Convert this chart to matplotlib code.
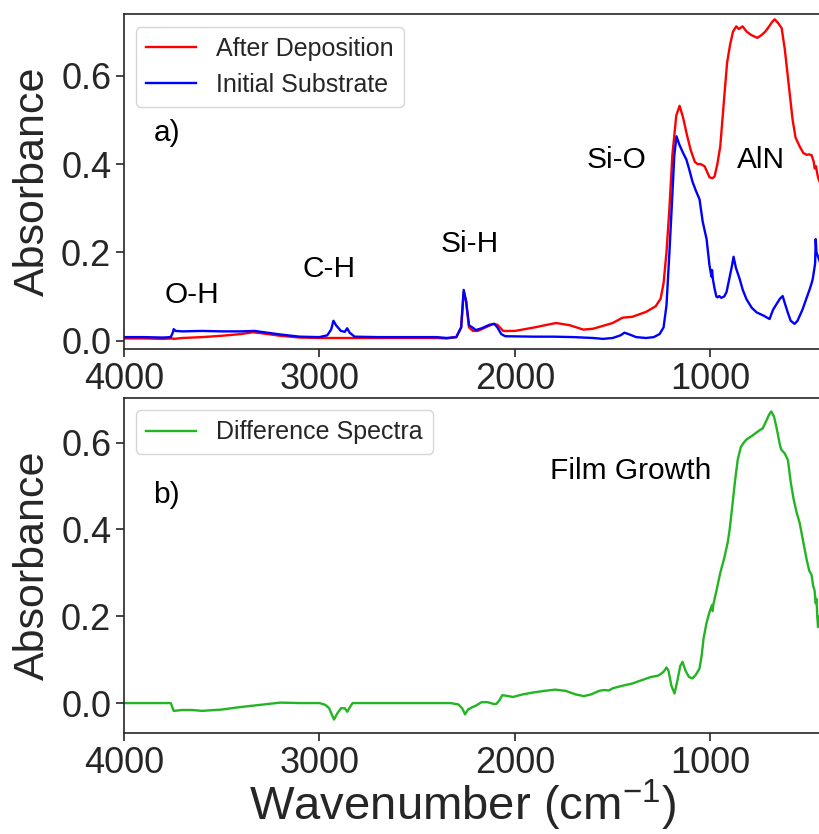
import matplotlib
matplotlib.use("Agg")
import matplotlib.pyplot as plt

# ---------------- data ----------------
red_wn = [4000, 3900, 3800, 3750, 3745, 3700, 3600, 3500, 3400, 3340, 3300, 3200, 3100, 3000,
          2900, 2800, 2500, 2400, 2350, 2300, 2275, 2262, 2250, 2235, 2215, 2190, 2150, 2110,
          2090, 2060, 2000, 1900, 1790, 1720, 1650, 1600, 1500, 1450, 1400, 1330, 1280, 1255,
          1240, 1225, 1210, 1195, 1175, 1158, 1140, 1120, 1100, 1080, 1066, 1050, 1030, 1005,
          990, 979, 965, 950, 930, 915, 900, 885, 868, 855, 836, 815, 790, 760, 740, 720, 700,
          685, 672, 655, 636, 620, 605, 590, 580, 565, 544, 525, 508, 495, 483, 472, 467, 460,
          455, 450, 442]
red_abs = [0.005, 0.005, 0.004, 0.005, 0.004, 0.006, 0.008, 0.011, 0.015, 0.019, 0.017, 0.011,
           0.007, 0.006, 0.006, 0.006, 0.006, 0.006, 0.005, 0.008, 0.030, 0.110, 0.090, 0.030,
           0.022, 0.022, 0.030, 0.038, 0.036, 0.022, 0.022, 0.030, 0.040, 0.035, 0.025, 0.027,
           0.040, 0.052, 0.054, 0.065, 0.078, 0.095, 0.130, 0.200, 0.300, 0.420, 0.510, 0.532,
           0.505, 0.465, 0.430, 0.405, 0.400, 0.400, 0.395, 0.370, 0.368, 0.372, 0.400, 0.440,
           0.550, 0.630, 0.670, 0.700, 0.712, 0.706, 0.712, 0.700, 0.692, 0.686, 0.692, 0.700,
           0.712, 0.722, 0.728, 0.720, 0.708, 0.660, 0.600, 0.540, 0.500, 0.460, 0.440, 0.425,
           0.421, 0.422, 0.420, 0.405, 0.390, 0.395, 0.380, 0.370, 0.360]

blue_wn = [4000, 3900, 3800, 3760, 3748, 3745, 3735, 3700, 3600, 3500, 3400, 3330, 3300, 3200,
           3100, 3000, 2960, 2940, 2928, 2915, 2890, 2870, 2858, 2845, 2820, 2700, 2500, 2400,
           2350, 2300, 2275, 2262, 2250, 2235, 2218, 2200, 2170, 2130, 2105, 2090, 2070, 2050,
           1900, 1800, 1700, 1600, 1550, 1500, 1460, 1440, 1420, 1380, 1330, 1290, 1260, 1240,
           1225, 1210, 1195, 1185, 1174, 1160, 1140, 1123, 1110, 1092, 1075, 1056, 1040, 1020,
           1005, 995, 992, 988, 980, 970, 964, 955, 945, 930, 918, 902, 890, 882, 870, 851, 835,
           816, 790, 764, 730, 698, 680, 662, 645, 631, 620, 605, 590, 570, 555, 529, 510, 493,
           483, 477, 470, 465, 462, 458, 450, 442]
blue_abs = [0.008, 0.008, 0.007, 0.008, 0.020, 0.026, 0.022, 0.021, 0.022, 0.021, 0.021, 0.022,
            0.020, 0.014, 0.009, 0.008, 0.012, 0.025, 0.045, 0.035, 0.022, 0.020, 0.028, 0.018,
            0.009, 0.008, 0.008, 0.008, 0.006, 0.008, 0.030, 0.115, 0.090, 0.035, 0.030, 0.024,
            0.028, 0.036, 0.038, 0.030, 0.015, 0.010, 0.009, 0.009, 0.008, 0.006, 0.004, 0.006,
            0.012, 0.018, 0.015, 0.008, 0.006, 0.008, 0.015, 0.030, 0.080, 0.200, 0.330, 0.420,
            0.463, 0.445, 0.425, 0.410, 0.390, 0.360, 0.340, 0.320, 0.270, 0.230, 0.170, 0.145,
            0.160, 0.140, 0.120, 0.100, 0.098, 0.101, 0.097, 0.100, 0.110, 0.144, 0.170, 0.190,
            0.165, 0.140, 0.115, 0.094, 0.075, 0.064, 0.057, 0.049, 0.070, 0.083, 0.095, 0.101,
            0.085, 0.064, 0.045, 0.038, 0.045, 0.071, 0.095, 0.116, 0.130, 0.140, 0.160, 0.175,
            0.230, 0.200, 0.190, 0.180]

green_wn = [4000, 3900, 3800, 3760, 3750, 3745, 3700, 3650, 3600, 3500, 3400, 3300, 3200, 3100,
            3000, 2970, 2950, 2935, 2925, 2910, 2890, 2870, 2857, 2845, 2830, 2500, 2330, 2290,
            2270, 2255, 2240, 2220, 2200, 2170, 2140, 2110, 2095, 2080, 2065, 2045, 2010, 1960,
            1912, 1850, 1794, 1740, 1690, 1648, 1610, 1570, 1545, 1520, 1500, 1450, 1400, 1350,
            1305, 1270, 1261, 1240, 1225, 1215, 1200, 1184, 1170, 1155, 1143, 1128, 1110, 1092,
            1075, 1056, 1045, 1035, 1020, 1005, 992, 989, 985, 969, 950, 928, 912, 902, 887, 875,
            861, 845, 830, 817, 790, 766, 745, 734, 715, 700, 689, 675, 660, 645, 638, 620, 604,
            590, 575, 560, 544, 525, 508, 495, 483, 475, 468, 462, 458, 454, 450, 443]
green_abs = [0.0, 0.0, 0.0, 0.0, -0.012, -0.018, -0.016, -0.016, -0.018, -0.015, -0.009, -0.004,
             0.001, 0.0, 0.0, -0.004, -0.012, -0.028, -0.038, -0.025, -0.012, -0.012, -0.020,
             -0.010, 0.0, 0.0, 0.0, -0.003, -0.012, -0.026, -0.015, -0.010, -0.006, 0.002, 0.002,
             -0.002, -0.002, 0.006, 0.018, 0.017, 0.014, 0.020, 0.024, 0.028, 0.031, 0.028, 0.020,
             0.016, 0.020, 0.028, 0.030, 0.029, 0.034, 0.040, 0.045, 0.053, 0.060, 0.063, 0.065,
             0.072, 0.082, 0.075, 0.040, 0.022, 0.050, 0.085, 0.095, 0.075, 0.060, 0.057, 0.065,
             0.080, 0.110, 0.150, 0.185, 0.210, 0.226, 0.212, 0.228, 0.260, 0.300, 0.337, 0.370,
             0.400, 0.460, 0.510, 0.560, 0.590, 0.600, 0.607, 0.615, 0.623, 0.630, 0.632, 0.650,
             0.665, 0.672, 0.660, 0.630, 0.595, 0.584, 0.575, 0.560, 0.510, 0.470, 0.440, 0.415,
             0.370, 0.330, 0.305, 0.295, 0.270, 0.260, 0.230, 0.240, 0.200, 0.175, 0.200]

x_ticks = [4000, 3000, 2000, 1000]
y_ticks = [0.0, 0.2, 0.4, 0.6]

# ---------------- style ----------------
plt.rcParams['font.family'] = ['Liberation Sans', 'DejaVu Sans']
plt.rcParams['mathtext.fontset'] = 'custom'
plt.rcParams['mathtext.rm'] = 'Liberation Sans'
plt.rcParams['mathtext.it'] = 'Liberation Sans:italic'
plt.rcParams['text.color'] = '.15'
plt.rcParams['axes.labelcolor'] = '.15'
plt.rcParams['xtick.color'] = '.15'
plt.rcParams['ytick.color'] = '.15'
plt.rcParams['axes.edgecolor'] = '.15'

fig = plt.figure(figsize=(8.2, 8.34), dpi=100)
ax1 = fig.add_axes([0.151, 0.5815, 0.849, 0.4017])
ax2 = fig.add_axes([0.151, 0.1211, 0.849, 0.4017])

ax1.plot(red_wn, red_abs, color='red', lw=1.7, label='After Deposition')
ax1.plot(blue_wn, blue_abs, color='blue', lw=1.7, label='Initial Substrate')
ax2.plot(green_wn, green_abs, color='#22b522', lw=1.7, label='Difference Spectra')

for ax in (ax1, ax2):
    ax.set_xlim(4000, 440)
    ax.set_xticks(x_ticks)
    ax.set_yticks(y_ticks)
    ax.tick_params(labelsize=26, length=6, width=1.2, direction='out', pad=3)
    ax.set_ylabel('Absorbance', fontsize=31, labelpad=6)
    for s in ax.spines.values():
        s.set_linewidth(1.2)

ax1.set_ylim(-0.019, 0.74)
ax2.set_ylim(-0.069, 0.703)
ax2.set_xlabel('Wavenumber (cm$^{-1}$)', fontsize=34, labelpad=0)
ax2.xaxis.set_label_coords(0.487, -0.135)
ax2.xaxis.label.set_va('top')

leg_kw = dict(loc='upper left', fontsize=18, frameon=True, edgecolor='0.8',
              fancybox=True, borderaxespad=0.5)
ax1.legend(**leg_kw)
ax2.legend(**leg_kw)

ann = 21.5
ax1.text(3780, 0.471, 'a)', fontsize=ann, ha='center', va='center', color='black')
ax1.text(3652, 0.103, 'O-H', fontsize=ann, ha='center', va='center', color='black')
ax1.text(2950, 0.162, 'C-H', fontsize=ann, ha='center', va='center', color='black')
ax1.text(2229, 0.218, 'Si-H', fontsize=ann, ha='center', va='center', color='black')
ax1.text(1481, 0.41, 'Si-O', fontsize=ann, ha='center', va='center', color='black')
ax1.text(744, 0.41, 'AlN', fontsize=ann, ha='center', va='center', color='black')
ax2.text(3780, 0.48, 'b)', fontsize=ann, ha='center', va='center', color='black')
ax2.text(1409, 0.535, 'Film Growth', fontsize=ann, ha='center', va='center', color='black')

fig.savefig('out.png', dpi=100)
